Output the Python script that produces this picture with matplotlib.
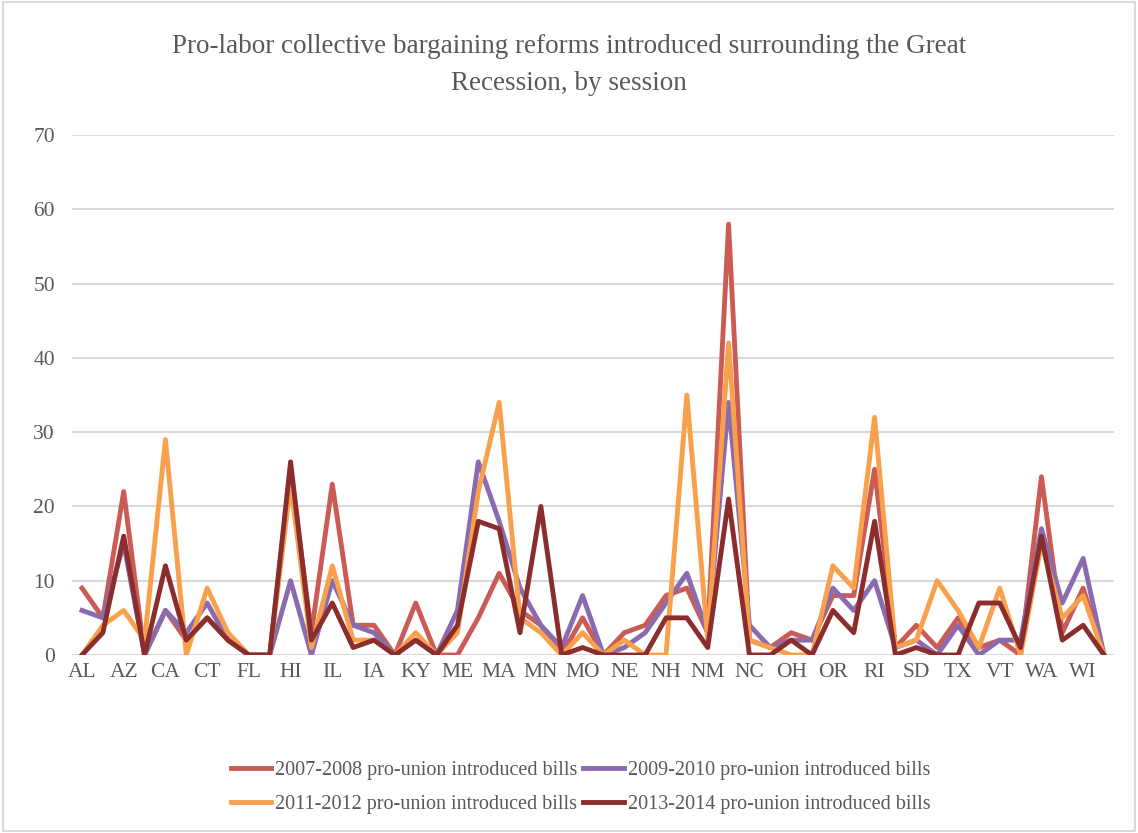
import matplotlib.pyplot as plt
from matplotlib.patches import Rectangle

# states in alphabetical order of full name
states = ['AL', 'AK', 'AZ', 'AR', 'CA', 'CO', 'CT', 'DE', 'FL', 'GA',
          'HI', 'ID', 'IL', 'IN', 'IA', 'KS', 'KY', 'LA', 'ME', 'MD',
          'MA', 'MI', 'MN', 'MS', 'MO', 'MT', 'NE', 'NV', 'NH', 'NJ',
          'NM', 'NY', 'NC', 'ND', 'OH', 'OK', 'OR', 'PA', 'RI', 'SC',
          'SD', 'TN', 'TX', 'UT', 'VT', 'VA', 'WA', 'WV', 'WI', 'WY']

bills_0708 = [9, 5, 22, 0, 6, 2, 5, 2, 0, 0,
              25, 3, 23, 4, 4, 0, 7, 0, 0, 5,
              11, 6, 4, 0, 5, 0, 3, 4, 8, 9,
              3, 58, 2, 1, 3, 2, 8, 8, 25, 1,
              4, 1, 5, 1, 2, 0, 24, 3, 9, 0]
bills_0910 = [6, 5, 15, 0, 6, 3, 7, 2, 0, 0,
              10, 0, 10, 4, 3, 0, 2, 0, 6, 26,
              18, 9, 4, 1, 8, 0, 1, 3, 7, 11,
              3, 34, 4, 1, 2, 2, 9, 6, 10, 1,
              2, 0, 4, 0, 2, 2, 17, 7, 13, 0]
bills_1112 = [0, 4, 6, 2, 29, 0, 9, 3, 0, 0,
              23, 1, 12, 2, 2, 0, 3, 0, 3, 22,
              34, 5, 3, 0, 3, 0, 2, 0, 0, 35,
              2, 42, 2, 1, 0, 0, 12, 9, 32, 1,
              2, 10, 6, 1, 9, 0, 15, 5, 8, 0]
bills_1314 = [0, 3, 16, 0, 12, 2, 5, 2, 0, 0,
              26, 2, 7, 1, 2, 0, 2, 0, 4, 18,
              17, 3, 20, 0, 1, 0, 0, 0, 5, 5,
              1, 21, 0, 0, 2, 0, 6, 3, 18, 0,
              1, 0, 0, 7, 7, 1, 16, 2, 4, 0]

series = [
    ('2007-2008 pro-union introduced bills', bills_0708, '#CB5B55'),
    ('2009-2010 pro-union introduced bills', bills_0910, '#8A6BB0'),
    ('2011-2012 pro-union introduced bills', bills_1112, '#F9A04C'),
    ('2013-2014 pro-union introduced bills', bills_1314, '#8B2D2D'),
]

plt.rcParams['font.family'] = ['Liberation Serif', 'DejaVu Serif']
text_col = '#595959'

fig = plt.figure(figsize=(11.38, 8.33), dpi=100)
fig.patches.append(Rectangle((0.003, 0.003), 0.994, 0.994, transform=fig.transFigure,
                             fill=False, edgecolor='#D9D9D9', linewidth=1.5))
ax = fig.add_axes([0.0629, 0.2137, 0.9164, 0.6242])

x = list(range(len(states)))
lines = []
for label, vals, col in series:
    ln, = ax.plot(x, vals, color=col, linewidth=3.5, label=label)
    lines.append(ln)

ax.set_xlim(-0.5, len(states) - 0.5)
ax.set_ylim(0, 70)
ax.set_yticks(range(0, 71, 10))
ax.set_xticks(x[::2])
ax.set_xticklabels(states[::2])
ax.grid(axis='y', color='#D9D9D9', linewidth=1.5)
ax.set_axisbelow(True)
for s in ax.spines.values():
    s.set_visible(False)
ax.tick_params(length=0, labelsize=15.5, colors=text_col)
ax.tick_params(axis='y', pad=12)
ax.tick_params(axis='x', pad=6)

fig.text(0.5, 0.922, 'Pro-labor collective bargaining reforms introduced surrounding the Great\nRecession, by session',
         ha='center', va='center', fontsize=19.5, color=text_col, linespacing=1.65)

# legend filled row by row
order = [0, 2, 1, 3]
leg = ax.legend([lines[i] for i in order], [series[i][0] for i in order],
                loc='center', bbox_to_anchor=(0.488, -0.255), ncol=2, frameon=False,
                fontsize=14.5, handlelength=2.0, handletextpad=0.2, columnspacing=0.3,
                labelspacing=0.75)
for t in leg.get_texts():
    t.set_color(text_col)

fig.savefig('out.png', dpi=100)
